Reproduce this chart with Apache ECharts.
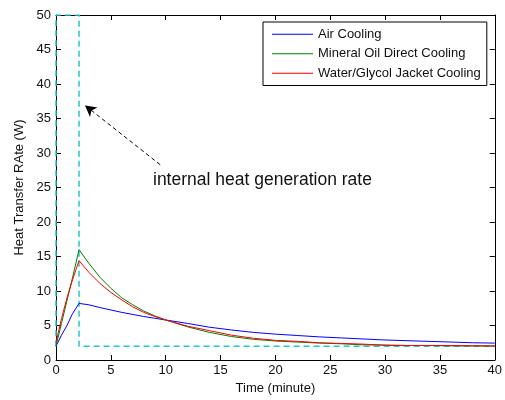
<!DOCTYPE html>
<html>
<head>
<meta charset="utf-8">
<script src="https://cdn.jsdelivr.net/npm/echarts@6/dist/echarts.min.js"></script>
<style>
html,body{margin:0;padding:0;background:#fff;}
#chart{width:505px;height:400px;}
</style>
</head>
<body>
<div id="chart"></div>
<script>
// ---- data ----
var time = [0, 0.5, 1, 1.5, 2.1, 3, 4, 5, 6, 7, 8, 9, 10, 12, 14, 16, 18, 20, 22, 24, 26, 28, 30, 32, 34, 36, 38, 40];
var airCooling = [2.0, 3.6, 5.0, 6.7, 8.2, 8.0, 7.6, 7.25, 6.9, 6.6, 6.3, 6.05, 5.8, 5.3, 4.75, 4.35, 4.0, 3.75, 3.55, 3.35, 3.2, 3.05, 2.9, 2.8, 2.7, 2.6, 2.5, 2.45];
var mineralOil = [2.0, 5.3, 8.6, 11.9, 16.0, 14.0, 12.0, 10.4, 9.0, 8.0, 7.1, 6.4, 5.8, 4.8, 4.0, 3.4, 3.0, 2.75, 2.6, 2.45, 2.35, 2.2, 2.15, 2.1, 2.1, 2.05, 2.05, 2.0];
var waterGlycol = [2.5, 6.0, 9.0, 11.6, 14.4, 12.7, 11.1, 9.8, 8.7, 7.7, 6.9, 6.3, 5.8, 4.9, 4.25, 3.6, 3.15, 2.85, 2.7, 2.5, 2.4, 2.3, 2.15, 2.1, 2.1, 2.1, 2.05, 2.05];
var genTime = [0, 0, 2.1, 2.1, 40];
var genRate = [2, 50, 50, 2, 2];
var xTicks = [0, 5, 10, 15, 20, 25, 30, 35, 40];
var yTicks = [0, 5, 10, 15, 20, 25, 30, 35, 40, 45, 50];
var seriesNames = ['Air Cooling', 'Mineral Oil Direct Cooling', 'Water/Glycol Jacket Cooling'];
var seriesColors = ['#0000ff', '#008000', '#ff0000'];
var annotationText = 'internal heat generation rate';
var arrowFrom = [9.5, 28.3];
var arrowTo = [2.65, 36.9];

function pairs(xs, ys) { return xs.map(function (x, i) { return [x, ys[i]]; }); }

var FONT = "Arial, 'Liberation Sans', sans-serif";
var chart = echarts.init(document.getElementById('chart'), null, {renderer: 'canvas'});

var baseAxis = {
  axisLine: {show: true, onZero: false, lineStyle: {color: '#000', width: 1}},
  axisTick: {show: true, inside: true, length: 5, lineStyle: {color: '#000'}},
  splitLine: {show: false}
};

var option = {
  backgroundColor: '#fff',
  animation: false,
  grid: {left: 56, top: 15, width: 439, height: 348},
  legend: {
    data: seriesNames.map(function (n) { return {name: n, icon: 'rect'}; }),
    orient: 'vertical',
    left: 263, top: 22,
    padding: [5, 6, 5, 9],
    itemGap: 5,
    itemWidth: 41, itemHeight: 1.2,
    borderColor: '#000', borderWidth: 1,
    backgroundColor: '#fff',
    textStyle: {fontFamily: FONT, fontSize: 13, color: '#111', lineHeight: 14.5}
  },
  xAxis: [
    Object.assign({}, baseAxis, {
      type: 'value', min: 0, max: 40, interval: 5, position: 'bottom',
      name: 'Time (minute)', nameLocation: 'middle', nameGap: 22,
      nameTextStyle: {fontFamily: FONT, fontSize: 13, color: '#111'},
      axisLabel: {margin: 4, fontFamily: FONT, fontSize: 13, color: '#111',
        formatter: function (v) { return xTicks.indexOf(v) >= 0 ? String(v) : ''; }}
    }),
    Object.assign({}, baseAxis, {
      type: 'value', min: 0, max: 40, interval: 5, position: 'top',
      axisLabel: {show: false}
    })
  ],
  yAxis: [
    Object.assign({}, baseAxis, {
      type: 'value', min: 0, max: 50, interval: 5, position: 'left',
      name: 'Heat Transfer RAte (W)', nameLocation: 'middle', nameGap: 25,
      nameTextStyle: {fontFamily: FONT, fontSize: 13, color: '#111'},
      axisLabel: {margin: 5, fontFamily: FONT, fontSize: 13, color: '#111',
        formatter: function (v) { return yTicks.indexOf(v) >= 0 ? String(v) : ''; }}
    }),
    Object.assign({}, baseAxis, {
      type: 'value', min: 0, max: 50, interval: 5, position: 'right',
      axisLabel: {show: false}
    })
  ],
  series: [
    {
      name: 'heat generation', type: 'line', data: pairs(genTime, genRate),
      symbol: 'none', clip: true, silent: true,
      lineStyle: {color: '#22c8c8', width: 1.5, type: [6, 4]},
      markLine: {
        silent: true,
        symbol: ['none', 'arrow'], symbolSize: [9, 11],
        lineStyle: {color: '#000', type: [4, 3], width: 1},
        label: {show: false},
        data: [[{coord: arrowFrom}, {coord: arrowTo}]]
      },
      z: 1
    },
    {name: seriesNames[0], type: 'line', data: pairs(time, airCooling), symbol: 'none',
      lineStyle: {color: seriesColors[0], width: 1}, itemStyle: {color: seriesColors[0]}, z: 3},
    {name: seriesNames[1], type: 'line', data: pairs(time, mineralOil), symbol: 'none',
      lineStyle: {color: seriesColors[1], width: 1}, itemStyle: {color: seriesColors[1]}, z: 3},
    {name: seriesNames[2], type: 'line', data: pairs(time, waterGlycol), symbol: 'none',
      lineStyle: {color: seriesColors[2], width: 1}, itemStyle: {color: seriesColors[2]}, z: 4}
  ],
  graphic: [
    {type: 'text', left: 153, top: 171,
      style: {text: annotationText, fontFamily: FONT, fontSize: 17.5, fill: '#111'}}
  ]
};
chart.setOption(option);
</script>
</body>
</html>
